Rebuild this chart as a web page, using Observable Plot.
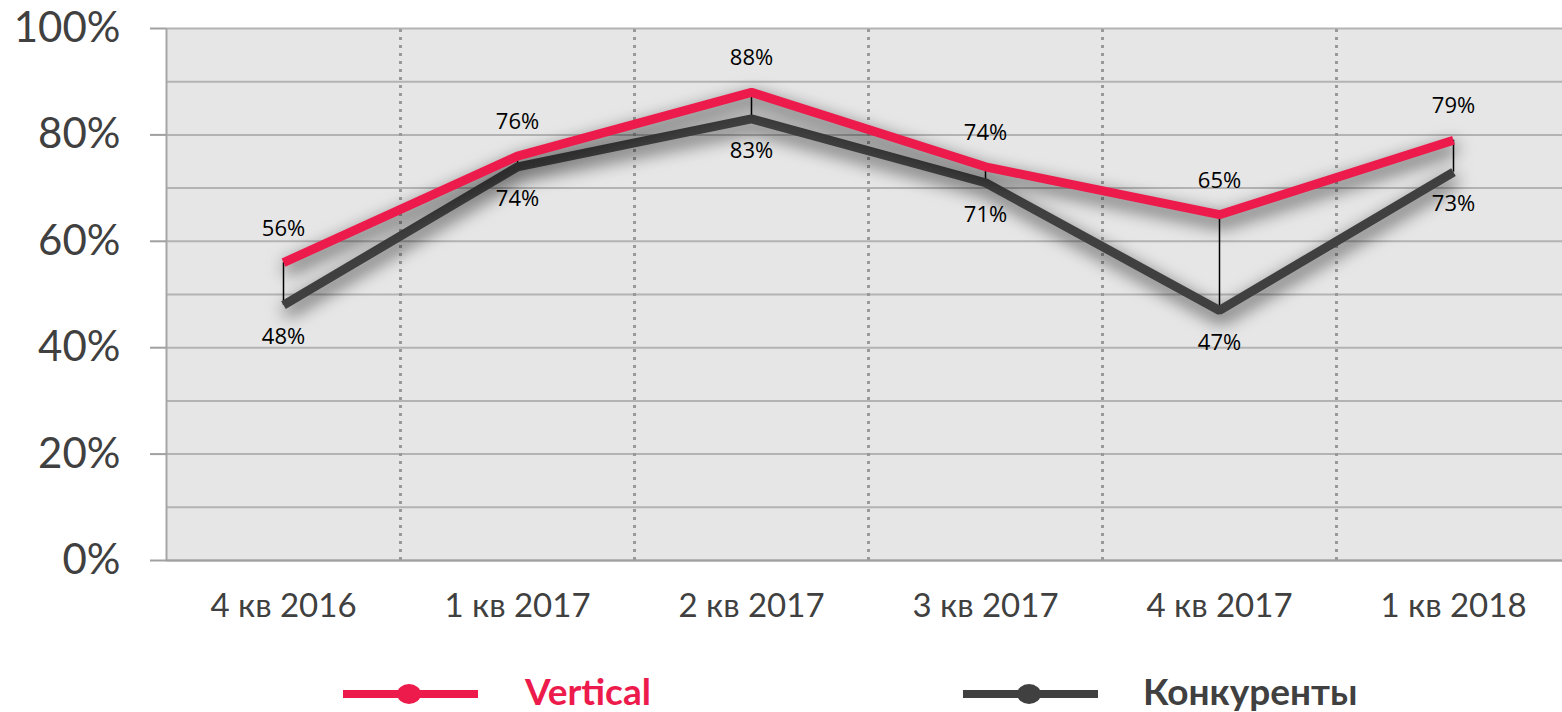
<!DOCTYPE html>
<html>
<head>
<meta charset="utf-8">
<script src="https://cdn.jsdelivr.net/npm/d3@7"></script>
<script src="https://cdn.jsdelivr.net/npm/@observablehq/plot@0.6"></script>
<style>
  html, body { margin: 0; padding: 0; background: #fff; overflow: hidden; }
  #wrap { position: relative; width: 1562px; height: 712px; }
  #legend { position: absolute; left: 0; top: 668px; width: 1562px; height: 44px; font-family: Lato, "Open Sans", sans-serif; font-weight: 700; font-size: 37px; }
  .item { position: absolute; top: 0; height: 44px; display: flex; align-items: center; }
</style>
</head>
<body>
<div id="wrap"><div id="chart"></div><div id="legend"></div></div>
<script>
const categories = ["4 кв 2016", "1 кв 2017", "2 кв 2017", "3 кв 2017", "4 кв 2017", "1 кв 2018"];
const verticalValues = [56, 76, 88, 74, 65, 79];
const competitorValues = [48, 74, 83, 71, 47, 73];
const yTicks = [0, 20, 40, 60, 80, 100];
const gridTicks = [0, 10, 20, 30, 40, 50, 60, 70, 80, 90, 100];
const seriesNames = ["Vertical", "Конкуренты"];
const seriesColors = ["#ED1B4C", "#404040"];

const idx = categories.map((_, i) => i);
const rowsV = idx.map(i => ({i, v: verticalValues[i]}));
const rowsC = idx.map(i => ({i, v: competitorValues[i]}));
const rowsHL = idx.map(i => ({i, hi: verticalValues[i], lo: competitorValues[i]}));
const boundaries = idx.slice(1).map(i => i - 0.5);

const chart = Plot.plot({
  width: 1562,
  height: 650,
  marginLeft: 166,
  marginRight: 0,
  marginTop: 28,
  marginBottom: 90,
  style: {fontFamily: "Lato, 'Open Sans', sans-serif", background: "transparent"},
  x: {type: "linear", domain: [-0.5, categories.length - 0.5], range: [166, 1570], axis: null},
  y: {domain: [0, 100], axis: null},
  marks: [
    Plot.frame({fill: "#e6e6e6", stroke: null}),
    Plot.ruleY(gridTicks, {stroke: "#b3b3b3", strokeWidth: 2}),
    Plot.ruleX(boundaries, {y1: 0, y2: 100, stroke: "#999", strokeWidth: 3, strokeDasharray: "3,5"}),
    Plot.ruleX([-0.5], {y1: 0, y2: 100, stroke: "#a6a6a6", strokeWidth: 2}),
    Plot.ruleY([0], {stroke: "#a0a0a0", strokeWidth: 2}),
    Plot.axisY({ticks: yTicks, tickSize: 16, tickPadding: 30, fontSize: 42, tickFormat: d => d + "%", stroke: "#a0a0a0", fill: "#404040", strokeWidth: 2, label: null}),
    Plot.axisX({ticks: idx, tickSize: 0, tickPadding: 33, fontSize: 33, tickFormat: i => categories[i], fill: "#404040", label: null}),
    Plot.ruleX(rowsHL, {x: "i", y1: "hi", y2: "lo", stroke: "#000", strokeWidth: 1.5}),
    Plot.line(rowsC, {x: "i", y: "v", stroke: seriesColors[1], strokeWidth: 9, strokeLinecap: "butt", strokeLinejoin: "miter"}),
    Plot.line(rowsV, {x: "i", y: "v", stroke: seriesColors[0], strokeWidth: 9, strokeLinecap: "butt", strokeLinejoin: "miter"}),
    Plot.text(rowsV, {x: "i", y: "v", text: d => d.v + "%", dy: -34, fontSize: 22, fontFamily: "'Open Sans', sans-serif", fill: "#000"}),
    Plot.text(rowsC, {x: "i", y: "v", text: d => d.v + "%", dy: 32, fontSize: 22, fontFamily: "'Open Sans', sans-serif", fill: "#000"})
  ]
});
chart.querySelectorAll('g[aria-label="line"]').forEach(g => {
  g.style.filter = "drop-shadow(2px 7px 9px rgba(0,0,0,0.75))";
});
document.getElementById("chart").appendChild(chart);

// legend
const legend = d3.select("#legend");
const legendLeft = [343, 963];
const textLeft = [525, 1143];
seriesNames.forEach((name, k) => {
  const it = legend.append("div").attr("class", "item").style("left", legendLeft[k] + "px");
  const s = it.append("svg").attr("width", 136).attr("height", 44);
  s.append("line").attr("x1", 0).attr("x2", 135).attr("y1", 26).attr("y2", 26)
    .attr("stroke", seriesColors[k]).attr("stroke-width", 8);
  s.append("ellipse").attr("cx", 66).attr("cy", 26).attr("rx", 12).attr("ry", 10).attr("fill", seriesColors[k]);
  legend.append("div").attr("class", "item").style("left", textLeft[k] + "px")
    .style("color", seriesColors[k]).text(name);
});
</script>
</body>
</html>
